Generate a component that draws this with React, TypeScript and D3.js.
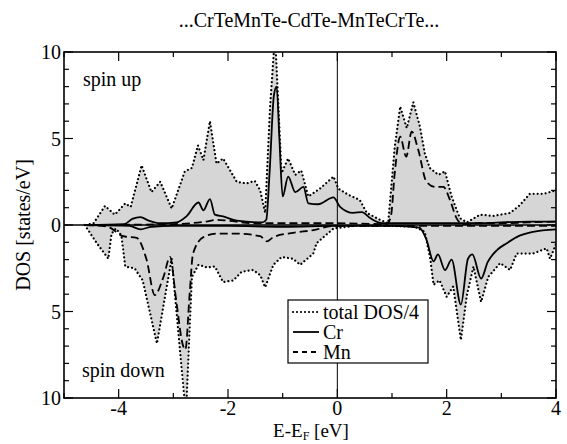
import React from "react";
import * as d3 from "d3";

// total DOS / 4, spin up and spin down (down plotted below zero)
const totalUpE = [-4.6, -4.46, -4.25, -4.07, -3.88, -3.78, -3.58, -3.4, -3.24, -3.03, -2.79, -2.66, -2.55, -2.45, -2.33, -2.21, -2.09, -1.84, -1.66, -1.51, -1.41, -1.32, -1.23, -1.14, -1.02, -0.9, -0.77, -0.66, -0.53, -0.32, -0.07, 0.02, 0.2, 0.41, 0.54, 0.78, 0.93, 1.05, 1.15, 1.27, 1.39, 1.51, 1.6, 1.69, 1.85, 1.97, 2.09, 2.24, 2.37, 2.61, 2.85, 3.16, 3.34, 3.52, 3.77, 4.0];
const totalUpV = [0, 0.1, 1.1, 0.6, 1.25, 1.05, 3.45, 1.9, 2.5, 0.95, 3.1, 3.3, 4.6, 3.75, 6.0, 3.55, 3.85, 2.5, 2.4, 2.55, 2.0, 0.7, 6.85, 11, 3.0, 3.85, 2.9, 3.15, 1.65, 2.1, 2.8, 2.1, 1.75, 1.45, 0.7, 0.3, 0.1, 4.5, 6.85, 5.6, 7.1, 5.7, 4.15, 3.3, 2.9, 3.1, 1.65, 0.4, 0.15, 0.6, 0.52, 0.7, 1.15, 1.8, 1.8, 2.0];
const totalDnE = [-4.62, -4.4, -4.19, -4.13, -4.05, -3.95, -3.88, -3.71, -3.56, -3.3, -3.12, -3.03, -2.77, -2.66, -2.54, -2.39, -2.24, -2.09, -1.9, -1.75, -1.54, -1.41, -1.32, -1.17, -1.02, -0.81, -0.68, -0.44, -0.38, -0.07, 0.3, 1.0, 1.42, 1.6, 1.7, 1.76, 1.87, 2.0, 2.12, 2.26, 2.37, 2.49, 2.63, 2.76, 2.98, 3.16, 3.28, 3.58, 3.83, 3.89, 4.0];
const totalDnV = [0, 1.05, 1.95, 0.5, 0.2, 0.6, 2.4, 2.5, 3.2, 6.85, 3.55, 1.95, 11, 3.0, 2.3, 2.45, 2.4, 3.3, 3.2, 2.7, 2.6, 2.9, 3.6, 2.3, 1.85, 1.95, 2.3, 1.65, 1.05, 0.2, 0.05, 0.05, 0.1, 0.4, 1.95, 3.45, 3.2, 4.15, 3.55, 6.65, 4.05, 2.4, 4.45, 3.0, 2.2, 2.6, 1.65, 1.65, 1.35, 1.95, 1.1];

// Cr
const crUpE = [-4.6, -3.9, -3.75, -3.6, -3.45, -3.25, -2.94, -2.76, -2.54, -2.45, -2.33, -2.24, -2.09, -1.84, -1.37, -1.3, -1.24, -1.16, -1.11, -1.06, -1.0, -0.9, -0.77, -0.62, -0.53, -0.35, -0.07, 0.05, 0.29, 0.45, 0.6, 0.82, 1.5, 2.5, 3.5, 4.0];
const crUpV = [0, 0.05, 0.35, 0.45, 0.25, 0.1, 0.15, 0.5, 1.3, 0.85, 1.5, 0.6, 0.5, 0.25, 0.15, 0.3, 3.0, 7.5, 8.0, 5.0, 1.65, 2.8, 1.9, 2.2, 1.25, 1.2, 1.6, 1.05, 0.7, 0.75, 0.4, 0.1, 0.1, 0.1, 0.2, 0.2];
const crDnE = [-4.6, -3.8, -3.6, -3.4, -3.0, -2.0, -1.0, 0, 1.0, 1.5, 1.63, 1.76, 1.84, 1.97, 2.09, 2.26, 2.39, 2.47, 2.63, 2.75, 2.92, 3.1, 3.28, 3.58, 4.0];
const crDnV = [0, 0.05, 0.25, 0.1, 0.05, 0.05, 0.1, 0.05, 0.05, 0.15, 0.85, 2.1, 1.7, 2.6, 2.0, 4.6, 1.95, 1.7, 3.1, 2.15, 1.45, 1.05, 0.7, 0.4, 0.25];

// Mn
const mnUpE = [-4.6, -3.0, -2.4, -2.2, -2.0, -1.5, -1.0, 0.0, 0.9, 0.98, 1.05, 1.15, 1.26, 1.36, 1.48, 1.63, 1.79, 1.94, 2.06, 2.18, 2.3, 2.6, 3.0, 3.5, 4.0];
const mnUpV = [0, 0.05, 0.2, 0.3, 0.25, 0.1, 0.1, 0.1, 0.05, 0.5, 3.0, 5.1, 3.95, 5.4, 4.35, 2.5, 2.2, 2.2, 1.45, 0.4, 0.05, 0.1, 0.1, 0.15, 0.2];
const mnDnE = [-4.6, -4.2, -3.92, -3.67, -3.49, -3.34, -3.18, -3.06, -2.95, -2.82, -2.78, -2.7, -2.64, -2.45, -2.2, -1.84, -1.41, -1.29, -1.17, -0.81, -0.44, -0.07, 0.5, 4.0];
const mnDnV = [0, 0.1, 0.65, 0.75, 2.0, 4.05, 3.0, 1.85, 4.3, 7.0, 7.2, 3.9, 1.65, 0.7, 0.5, 0.5, 0.65, 0.95, 0.7, 0.45, 0.3, 0.05, 0.05, 0.05];

const xMajor = [-4, -2, 0, 2, 4];
const xMinor = [-5, -3, -1, 1, 3];
const yMajor = [-10, -5, 0, 5, 10];
const yMinor = d3.range(-10, 11).filter(v => v % 5 !== 0);

const legendLabels = ["total DOS/4", "Cr", "Mn"];

const W = 567, H = 444;
const L = 64, R = 556, T = 52, B = 398;
const font = "'Liberation Serif', 'Times New Roman', serif";
const fs = 20;

const x = d3.scaleLinear().domain([-5, 4]).range([L, R]);
const y = d3.scaleLinear().domain([-10, 10]).range([B, T]);

const pts = (es: number[], vs: number[], sign: number) =>
  es.map((e, i) => [e, sign * vs[i]] as [number, number]);

const lineLin = d3.line<[number, number]>().x(d => x(d[0])).y(d => y(d[1]));
const lineSmooth = d3.line<[number, number]>().x(d => x(d[0])).y(d => y(d[1])).curve(d3.curveMonotoneX);
const area = d3.area<[number, number]>().x(d => x(d[0])).y0(y(0)).y1(d => y(d[1]));

const dotted = { fill: "none", stroke: "#000", strokeWidth: 2.2, strokeDasharray: "0.01 4", strokeLinecap: "round" as const };
const solid = { fill: "none", stroke: "#000", strokeWidth: 1.8 };
const dashed = { fill: "none", stroke: "#000", strokeWidth: 1.8, strokeDasharray: "8 4" };

export default function App() {
  const tUp = pts(totalUpE, totalUpV, 1);
  const tDn = pts(totalDnE, totalDnV, -1);
  const styles = [dotted, solid, { ...dashed, strokeDasharray: "5 4" }];

  return (
    <div style={{ position: "fixed", left: 0, top: 0 }}>
      <svg width={W} height={H} style={{ display: "block", background: "#fff" }}>
        <defs>
          <clipPath id="plot">
            <rect x={L} y={T} width={R - L} height={B - T} />
          </clipPath>
        </defs>

        <text x={309} y={27} textAnchor="middle" fontFamily={font} fontSize={fs}>
          ...CrTeMnTe-CdTe-MnTeCrTe...
        </text>

        <g clipPath="url(#plot)">
          <path d={area(tUp) || ""} fill="#d6d6d6" />
          <path d={area(tDn) || ""} fill="#d6d6d6" />
          <line x1={x(0)} x2={x(0)} y1={T} y2={B} stroke="#000" strokeWidth={1} />
          <line x1={L} x2={R} y1={y(0)} y2={y(0)} stroke="#000" strokeWidth={1.3} />
          <path d={lineSmooth(pts(crUpE, crUpV, 1)) || ""} {...solid} />
          <path d={lineSmooth(pts(crDnE, crDnV, -1)) || ""} {...solid} />
          <path d={lineSmooth(pts(mnUpE, mnUpV, 1)) || ""} {...dashed} />
          <path d={lineSmooth(pts(mnDnE, mnDnV, -1)) || ""} {...dashed} />
          <path d={lineLin(tUp) || ""} {...dotted} />
          <path d={lineLin(tDn) || ""} {...dotted} />
        </g>

        {/* ticks */}
        {xMajor.map(v => (
          <g key={"xM" + v}>
            <line x1={x(v)} x2={x(v)} y1={B} y2={B - 9} stroke="#000" strokeWidth={1.2} />
            <line x1={x(v)} x2={x(v)} y1={T} y2={T + 9} stroke="#000" strokeWidth={1.2} />
            <text x={x(v)} y={415} textAnchor="middle" fontFamily={font} fontSize={fs}>{v}</text>
          </g>
        ))}
        {xMinor.map(v => (
          <g key={"xm" + v}>
            <line x1={x(v)} x2={x(v)} y1={B} y2={B - 5} stroke="#000" strokeWidth={1.2} />
            <line x1={x(v)} x2={x(v)} y1={T} y2={T + 5} stroke="#000" strokeWidth={1.2} />
          </g>
        ))}
        {yMajor.map(v => (
          <g key={"yM" + v}>
            <line x1={L} x2={L + 9} y1={y(v)} y2={y(v)} stroke="#000" strokeWidth={1.2} />
            <line x1={R} x2={R - 9} y1={y(v)} y2={y(v)} stroke="#000" strokeWidth={1.2} />
            <text x={L - 3} y={y(v) + 7} textAnchor="end" fontFamily={font} fontSize={fs}>{Math.abs(v)}</text>
          </g>
        ))}
        {yMinor.map(v => (
          <g key={"ym" + v}>
            <line x1={L} x2={L + 5} y1={y(v)} y2={y(v)} stroke="#000" strokeWidth={1.2} />
            <line x1={R} x2={R - 5} y1={y(v)} y2={y(v)} stroke="#000" strokeWidth={1.2} />
          </g>
        ))}

        <rect x={L} y={T} width={R - L} height={B - T} fill="none" stroke="#000" strokeWidth={1.6} />

        <text x={83} y={86} fontFamily={font} fontSize={fs}>spin up</text>
        <text x={82} y={377} fontFamily={font} fontSize={fs}>spin down</text>

        {/* legend */}
        <rect x={288} y={300} width={140} height={63} fill="#fff" stroke="#000" strokeWidth={1.2} />
        {legendLabels.map((lab, i) => {
          const ly = 312 + i * 20;
          return (
            <g key={lab}>
              <line x1={293} x2={319} y1={ly} y2={ly} {...styles[i]} />
              <text x={323} y={ly + 7} fontFamily={font} fontSize={fs}>{lab}</text>
            </g>
          );
        })}

        <text x={311} y={437} textAnchor="middle" fontFamily={font} fontSize={19}>
          E-E<tspan fontSize={12} dy={3}>F</tspan><tspan dy={-3}> [eV]</tspan>
        </text>
        <text transform={`translate(30,${(T + B) / 2}) rotate(-90)`} textAnchor="middle" fontFamily={font} fontSize={fs}>
          DOS [states/eV]
        </text>
      </svg>
    </div>
  );
}
